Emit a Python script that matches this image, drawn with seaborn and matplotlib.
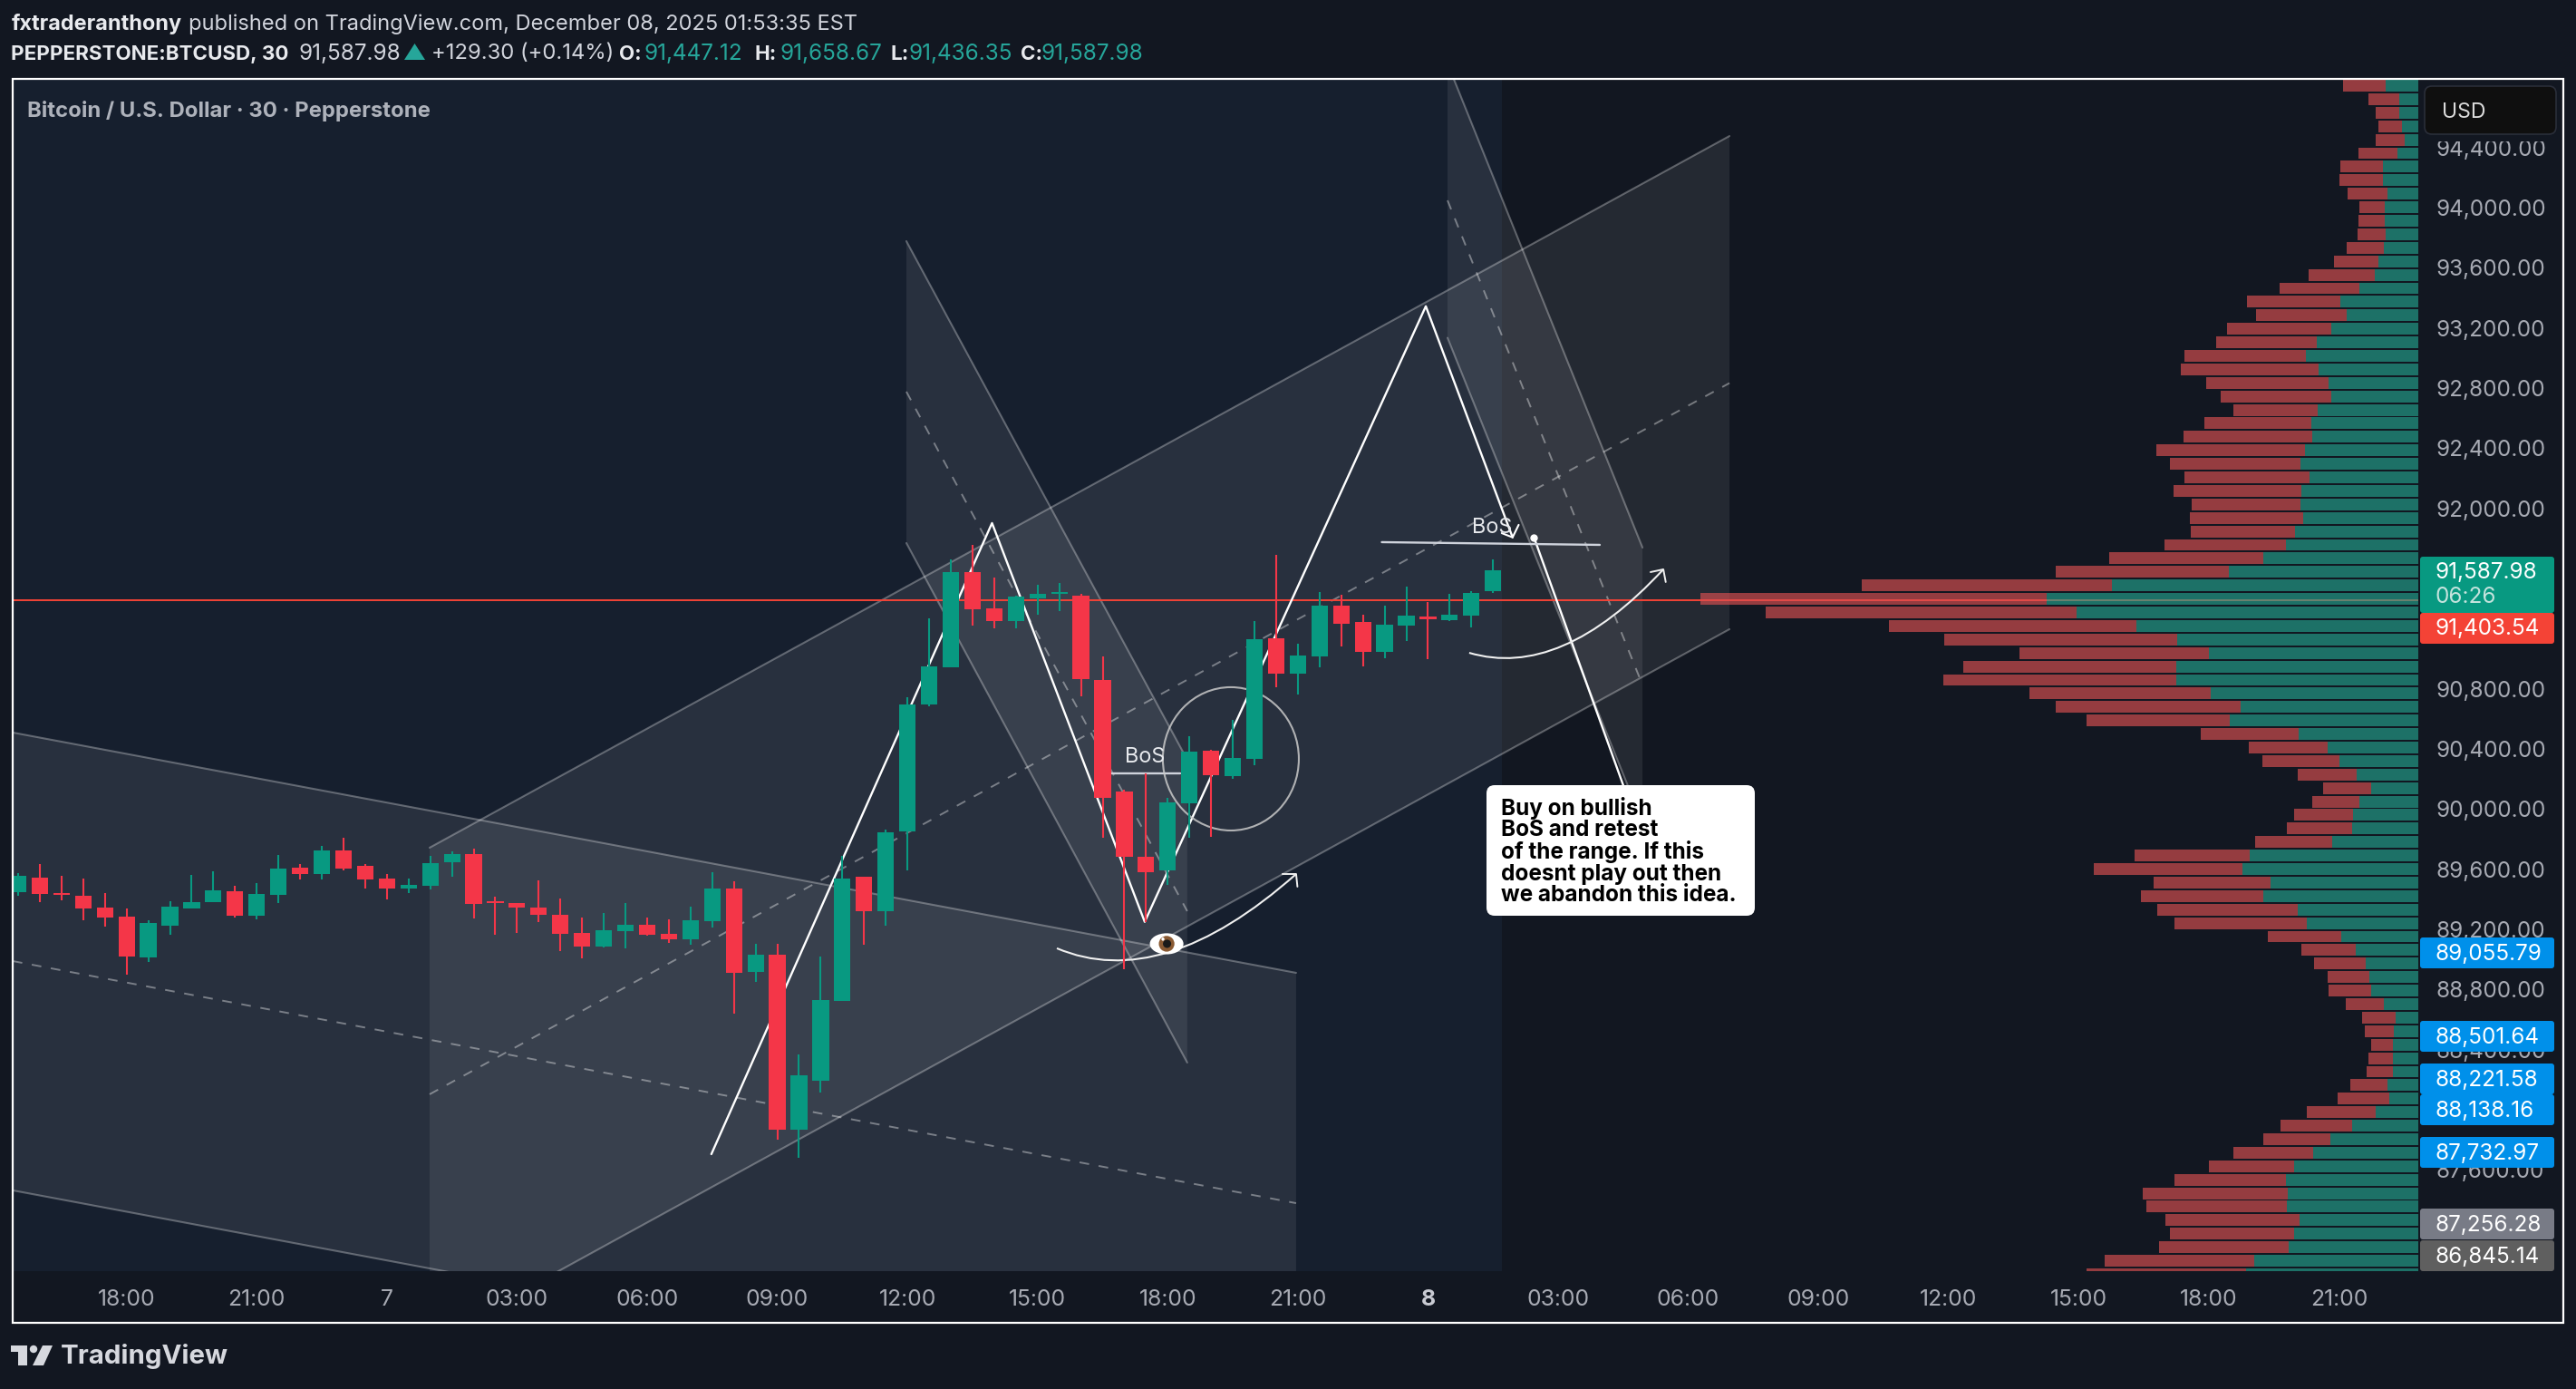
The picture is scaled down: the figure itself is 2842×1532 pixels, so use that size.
import numpy as np
import pandas as pd
import matplotlib
matplotlib.use("Agg")
import matplotlib.pyplot as plt
import seaborn as sns
from matplotlib.patches import Ellipse, FancyBboxPatch, PathPatch, Polygon, Rectangle, Circle
from matplotlib.path import Path
from matplotlib.ticker import FixedLocator, FuncFormatter
from matplotlib.transforms import Affine2D

# ---------- candles (30-minute bars) ----------
OPEN = [89447,89544,89441,89423,89345,89285,89013,89224,89339,89381,89453,89291,89429,89610,89568,89725,89622,89538,89472,89490,89647,89701,89387,89375,89345,89297,89176,89086,89188,
        89230,89171,89133,89254,89472,88918,89031,87865,88193,88724,89550,89321,89852,90697,90942,91577,91335,91251,91402,91429,91418,
        90858,90117,89683,89592,90038,90388,90219,90334,91136,90901,91015,91353,91244,91045,91220,91281,91257,91287,91447.12]
HIGH = [89574,89634,89556,89538,89441,89339,89261,89387,89562,89586,89490,89508,89695,89634,89755,89809,89634,89568,89538,89689,89719,89737,89417,89375,89526,89405,89279,89309,89375,
        89278,89268,89351,89580,89521,89103,89103,88368,89020,89687,89550,89862,90743,91268,91661,91758,91540,91418,91491,91505,91432,
        91015,90129,90235,90075,90485,90394,90593,91250,91691,91100,91443,91425,91293,91353,91480,91377,91431,91449,91658.67]
LOW = [89425,89381,89393,89261,89218,88899,88983,89164,89339,89381,89279,89267,89375,89532,89532,89592,89472,89399,89441,89466,89550,89273,89164,89176,89249,89056,89007,89080,89074,
       89157,89109,89098,89214,88640,88850,87800,87682,88115,88724,89098,89224,89593,90683,90942,91219,91203,91203,91292,91316,90751,
       89809,88935,89250,89496,89809,89815,90201,90292,90810,90762,90943,91082,90949,91003,91118,90997,91250,91208,91436.35]
CLOSE = [89556,89435,89429,89339,89279,89019,89242,89351,89381,89460,89291,89435,89604,89568,89725,89604,89532,89472,89496,89640,89701,89369,89375,89345,89297,89170,89086,89194,89230,
         89165,89133,89259,89472,88910,89031,87865,88228,88729,89537,89321,89846,90697,90950,91577,91330,91251,91413,91432,91443,90864,
         90075,89683,89580,90044,90382,90225,90340,91130,90901,91021,91353,91232,91045,91226,91287,91263,91293,91437,91587.98]

# ---------- volume profile, top row to bottom row ----------
VOL_TOTAL = [83,55,47,44,47,66,86,87,78,65,66,67,79,93,121,153,189,179,211,223,258,262,234,218,204,236,259,289,274,258,
             270,250,252,251,280,341,400,614,792,720,584,523,440,502,524,429,400,366,240,187,172,133,105,117,137,145,180,313,358,292,
             306,288,269,166,129,115,100,99,80,62,59,52,55,57,75,89,123,152,171,204,231,269,304,300,279,274,286,346,366]
VOL_BUY = [36,21,21,18,15.5,23.4,39,39,34,37,37,36,38.5,44,48,65,86,79,96,112.5,124,110,99,96,111,118,117,125,130,120,
           129,130,127,136,146.5,171,209,338,410,377,311,266,231,267,267,229,196,208,132,100,87,68,52,65,72,73,95,186,194,163,
           171,133,123,85,69,58,54,52,38.5,25,27,28,28,28,34,32,47,73,97,116,137,146.5,144,145,131,137,143,181,190]
VP_TOP_PRICE = 94810.5
VP_ROW_STEP = 89.82

# ---------- channels: (start bar, end bar), then price pairs ----------
CH_A_BARS = [-0.25, 58.92]
CH_A_UP, CH_A_MID, CH_A_LOW = [90509, 88911], [88989, 87379], [87464, 85866]
CH_B_BARS = [18.97, 78.9]
CH_B_UP, CH_B_MID, CH_B_LOW = [89743, 94476], [88103, 92833], [86457, 91196]
CH_C_BARS = [40.95, 53.9]
CH_C_UP, CH_C_MID, CH_C_LOW = [93777, 90328], [92776, 89321], [91769, 88314]
CH_D_BARS = [65.9, 74.89]
CH_D_UP, CH_D_MID, CH_D_LOW = [94959, 91739], [94048, 90825], [93134, 89912]

# ---------- hand drawings ----------
ZIG_BARS = [31.96, 44.9, 51.94, 64.9, 68.9]
ZIG_PRICE = [87705, 91902, 89250, 93344, 91807]
PLAN_BARS = [69.89, 74.0]
PLAN_PRICE = [91805, 90159]
PRICE_LINE = 91389

X_TICKS = [5, 11, 17, 23, 29, 35, 41, 47, 53, 59, 65, 71, 77, 83, 89, 95, 101, 107]
X_LABELS = ["18:00","21:00","7","03:00","06:00","09:00","12:00","15:00","18:00","21:00","8",
            "03:00","06:00","09:00","12:00","15:00","18:00","21:00"]
Y_TICKS = [94400,94000,93600,93200,92800,92400,92000,90800,90400,90000,89600,89200,88800,88400,87600]

PRICE_TAGS = ["89,055.79","88,501.64","88,221.58","88,138.16","87,732.97","87,256.28","86,845.14"]
TAG_COLORS = ["#0090ea","#0090ea","#0090ea","#0090ea","#0090ea","#787b86","#5f5f5f"]
TAG_CENTERS = [1051,1143,1190,1224,1271,1350,1385]

CALLOUT = ["Buy on bullish","BoS and retest","of the range. If this","doesnt play out then","we abandon this idea."]

# ---------- figure ----------
W, H = 2842, 1532
BG, PANE = "#121721", "#161f2e"
GREEN, RED = "#089981", "#f43648"
sns.set_theme(style="dark", rc={"axes.grid": False})
plt.rcParams["font.family"] = ["Inter", "DejaVu Sans"]
TXT = 16.9
NUM = 17.5

fig = plt.figure(figsize=(W/100, H/100), dpi=100, facecolor=BG)
AX_L, AX_R, AX_T, AX_B = 14, 2668, 87, 1402
ax = fig.add_axes([AX_L/W, 1-AX_B/H, (AX_R-AX_L)/W, (AX_B-AX_T)/H], facecolor=BG)
for s in ax.spines.values():
    s.set_visible(False)

ax.axvspan(-2, 68.39, color=PANE, lw=0, zorder=0)

def channel(bars, up, mid, low):
    ax.fill([bars[0], bars[1], bars[1], bars[0]], [up[0], up[1], low[1], low[0]],
            color="white", alpha=0.08, lw=0, zorder=1)
    for line in (up, low):
        ax.plot(bars, line, color="white", alpha=0.3, lw=1.5, zorder=2)
    ax.plot(bars, mid, color="white", alpha=0.38, lw=1.4, ls=(0, (5.5, 5.5)), zorder=2)

channel(CH_A_BARS, CH_A_UP, CH_A_MID, CH_A_LOW)
channel(CH_B_BARS, CH_B_UP, CH_B_MID, CH_B_LOW)
channel(CH_C_BARS, CH_C_UP, CH_C_MID, CH_C_LOW)
channel(CH_D_BARS, CH_D_UP, CH_D_MID, CH_D_LOW)

ax.axhline(PRICE_LINE, color="#f44336", lw=1.4, zorder=3)

sns.lineplot(x=ZIG_BARS, y=ZIG_PRICE, sort=False, errorbar=None, color="white", lw=1.7, ax=ax, zorder=3)
ax.plot([68.4, 68.9, 69.18], [91835, 91807, 91890], color="white", lw=1.5, zorder=3)
ax.plot(PLAN_BARS, PLAN_PRICE, color="white", lw=1.7, zorder=3)
ax.plot(PLAN_BARS[:1], PLAN_PRICE[:1], "o", color="white", ms=5, zorder=4)

# break-of-structure marks
ax.plot([50.3, 53.57], [90237, 90237], color="#cfd3dc", lw=1.7, zorder=3)
ax.plot([62.87, 72.92], [91775, 91757], color="#cfd3dc", lw=1.7, zorder=3)
ax.text(51.94, 90345, "BoS", color="#e8eaee", fontsize=TXT, ha="center", va="center", zorder=6)
ax.text(67.97, 91871, "BoS", color="#e8eaee", fontsize=TXT, ha="center", va="center", zorder=6)

ax.add_patch(Ellipse((55.91, 90334), 6.27, 953, fc="none", ec="#c9c9c9", lw=1.5, alpha=0.85, zorder=3))

def curve(p0, c, p2, head):
    ax.add_patch(PathPatch(Path([p0, c, p2], [Path.MOVETO, Path.CURVE3, Path.CURVE3]),
                           fc="none", ec="#f0f0f0", lw=1.5, zorder=3))
    ax.plot([head[0][0], p2[0], head[1][0]], [head[0][1], p2[1], head[1][1]], color="#f0f0f0", lw=1.4, zorder=3)

curve((47.89, 89074), (52.74, 88778), (58.92, 89568), [(58.29, 89568), (58.98, 89484)])
curve((66.9, 91039), (71.12, 90859), (75.85, 91594), [(75.26, 91576), (75.96, 91510)])

# candles
x = np.arange(len(OPEN))
o, h, l, c = map(np.array, (OPEN, HIGH, LOW, CLOSE))
cols = np.where(c >= o, GREEN, RED)
ax.vlines(x, l, h, colors=cols, lw=1.5, zorder=5)
ax.bar(x, np.abs(c-o), bottom=np.minimum(o, c), width=0.76, color=cols, lw=0, zorder=5)

# eye
ax.add_patch(Ellipse((52.95, 89104), 1.55, 140, fc="white", ec="none", zorder=6))
ax.add_patch(Ellipse((52.95, 89104), 0.72, 105, fc="#8a5a33", ec="none", zorder=7))
ax.add_patch(Ellipse((52.97, 89104), 0.38, 55, fc="#1a1a1a", ec="none", zorder=8))
ax.add_patch(Ellipse((52.78, 89135), 0.14, 22, fc="white", ec="none", zorder=9))

ax.set_xlim((AX_L-20)/23.93, (AX_R-20)/23.93)
ylim = (86927, 94856)
ax.set_ylim(*ylim)
ax.xaxis.set_major_locator(FixedLocator(X_TICKS))
ax.set_xticklabels(X_LABELS)
ax.yaxis.tick_right()
ax.yaxis.set_major_locator(FixedLocator(Y_TICKS))
ax.yaxis.set_major_formatter(FuncFormatter(lambda v, _: f"{v:,.2f}"))
ax.tick_params(axis="x", length=0, pad=14.5, labelsize=17.8, labelcolor="#a7aab3")
ax.get_xticklabels()[10].set_fontweight("bold")
ax.get_xticklabels()[10].set_color("#c8cad2")
ax.set_xlabel(""); ax.set_ylabel("")

# volume profile on a twin x axis, growing leftward from the price scale
rows = np.array([VP_TOP_PRICE - i*VP_ROW_STEP for i in range(len(VOL_TOTAL))])
vp = pd.DataFrame({"price": rows, "buy": VOL_BUY, "total": VOL_TOTAL}).sort_values("price")
vp["sell"] = vp["total"] - vp["buy"]
prof = ax.twiny()
prof.patch.set_visible(False)
sns.barplot(data=vp, x="buy", y="price", orient="y", native_scale=True, width=0.868, errorbar=None,
            color="#24a38e", saturation=1, alpha=0.65, linewidth=0, ax=prof)
sns.barplot(data=vp, x="sell", y="price", orient="y", native_scale=True, width=0.868, errorbar=None,
            color="#dc5052", saturation=1, alpha=0.65, linewidth=0, left=vp["buy"].values, ax=prof)
prof.set_xlim(AX_R-AX_L, 0)
prof.set_ylim(*ylim)
prof.set_xlabel(""); prof.set_ylabel("")
prof.xaxis.set_visible(False)
for s in prof.spines.values():
    s.set_visible(False)
ax.set_ylim(*ylim)
ax.yaxis.set_major_locator(FixedLocator(Y_TICKS))
ax.yaxis.tick_right()
ax.tick_params(axis="y", length=0, pad=13.7, labelsize=NUM, labelcolor="#a7aab3", labelright=True, labelleft=False)

# ---------- chrome in pixel space ----------
px = Affine2D().scale(1, -1).translate(0, H)

def box(x0, y0, x1, y1, fc, z=5, r=3, ec="none", lw=0):
    fig.add_artist(FancyBboxPatch((x0, y0), x1-x0, y1-y0, boxstyle=f"round,pad=0,rounding_size={r}",
                                  fc=fc, ec=ec, lw=lw, transform=px, zorder=z))

def T(x0, y0, s, color="#d1d4dc", size=TXT, weight="normal", ha="left", z=8):
    return fig.text(x0/W, 1-(y0+1.5)/H, s, color=color, fontsize=size, fontweight=weight, ha=ha, va="center", zorder=z)

fig.add_artist(Rectangle((2669, 88), 157, 68, fc=BG, ec="none", transform=px, zorder=5))
box(2675, 95, 2820, 148, "#0f0f0f", z=6, r=8, ec="#2a2e39", lw=1.2)
T(2694, 122, "USD", color="#dbdbdb", size=16.6)

box(2670, 614, 2818, 676, "#089981")
T(2687, 630, "91,587.98", color="white", size=NUM)
T(2687, 657, "06:26", color="#c4e3dd", size=NUM)
box(2670, 676, 2818, 710, "#f44336", z=6)
T(2687, 692, "91,403.54", color="white", size=NUM)
for s, col, yc in zip(PRICE_TAGS, TAG_COLORS, TAG_CENTERS):
    box(2670, yc-17, 2818, yc+17, col, z=6)
    T(2687, yc, s, color="white", size=NUM)

# outer frame
fig.add_artist(Rectangle((14, 87), 2814, 1372, fc="none", ec="white", lw=1.6, transform=px, zorder=9))

# callout
box(1640, 866, 1936, 1010, "white", z=7, r=9)
for s, yc in zip(CALLOUT, [890, 914.4, 938.5, 962.7, 986.3]):
    T(1656.5, yc, s, color="black", size=17.5, weight="bold")

# header
T(12.5, 25, "fxtraderanthony", color="#e8eaee", weight="bold", size=16.9)
T(208, 25, "published on TradingView.com, December 08, 2025 01:53:35 EST", size=17)
T(12.5, 58, "PEPPERSTONE:BTCUSD, 30", color="#e8eaee", weight="bold", size=16.1)
T(329.5, 58, "91,587.98", size=NUM)
fig.add_artist(Polygon([(457.5, 48), (469, 66), (446, 66)], fc="#26a69a", ec="none", transform=px, zorder=8))
T(476, 58, "+129.30 (+0.14%)", size=17.2)
for lx, lab, vx, val in [(683, "O:", 711, "91,447.12"), (833, "H:", 860, "91,658.67"),
                         (982, "L:", 1003, "91,436.35"), (1126, "C:", 1149, "91,587.98")]:
    T(lx, 58, lab, color="#e8eaee", weight="bold", size=16.1)
    T(vx, 58, val, color="#26a69a", size=NUM)
T(30, 121, "Bitcoin / U.S. Dollar · 30 · Pepperstone", color="#aeb2bb", weight="bold", size=17.2)

# logo
for pts in ([(12, 1484), (30, 1484), (30, 1506), (20, 1506), (20, 1491), (12, 1491)],
            [(47, 1484), (58, 1484), (48, 1506), (36, 1506)]):
    fig.add_artist(Polygon(pts, fc="#d6d8de", ec="none", transform=px, zorder=8))
fig.add_artist(Circle((37, 1488), 4.2, fc="#d6d8de", ec="none", transform=px, zorder=8))
T(67, 1494.5, "TradingView", color="#d6d8de", size=21.2, weight="bold")

fig.savefig("out.png", dpi=100, facecolor=BG)
